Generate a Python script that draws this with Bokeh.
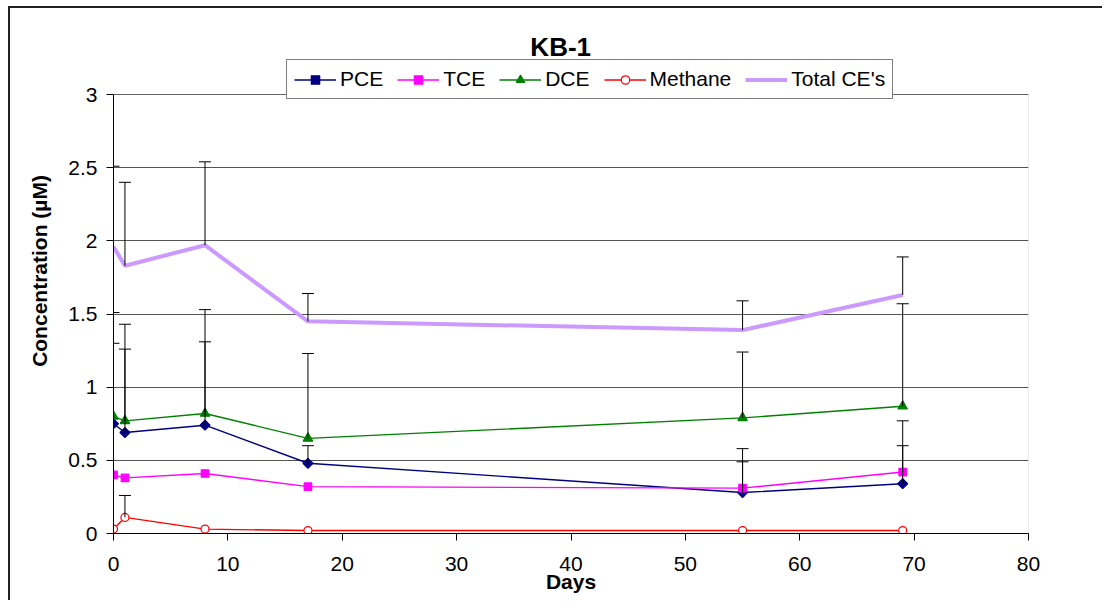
from bokeh.plotting import figure
from bokeh.models import (ColumnDataSource, Whisker, TeeHead, Legend, LegendItem,
                          Label, Range1d, FixedTicker, BoxAnnotation)
from bokeh.embed import file_html
from bokeh.resources import INLINE

# ---------------- data ----------------
chart_title = "KB-1"
x_label = "Days"
y_label = "Concentration (\u00b5M)"

days = [0, 1, 8, 17, 55, 69]

pce = [0.75, 0.69, 0.74, 0.48, 0.28, 0.34]
tce = [0.40, 0.38, 0.41, 0.32, 0.31, 0.42]
dce = [0.80, 0.77, 0.82, 0.65, 0.79, 0.87]
methane = [0.03, 0.11, 0.03, 0.02, 0.02, 0.02]
total_ce = [1.96, 1.83, 1.97, 1.45, 1.39, 1.63]

# upper ends of the error bars (None = no bar drawn)
pce_upper = [1.30, 1.26, 1.31, 0.60, 0.58, 0.77]
tce_upper = [None, None, None, None, 0.49, 0.60]
dce_upper = [1.51, 1.43, 1.53, 1.23, 1.24, 1.57]
methane_upper = [None, 0.26, None, None, None, None]
total_upper = [2.51, 2.40, 2.54, 1.64, 1.59, 1.89]

x_ticks = [0, 10, 20, 30, 40, 50, 60, 70, 80]
y_ticks = [0, 0.5, 1, 1.5, 2, 2.5, 3]
y_tick_labels = ["0", "0.5", "1", "1.5", "2", "2.5", "3"]

X_MIN, X_MAX = 0, 80
Y_MIN, Y_MAX = 0, 3

FONT = "Liberation Sans"

# layout (pixels)
FRAME_H = 525          # frame reaches the top of the canvas
AXIS_H = 439           # height of the 0..3 plot area
Y_TOP = Y_MAX * FRAME_H / AXIS_H   # extra head-room for title and legend

p = figure(width=1100, height=594, output_backend="svg", toolbar_location=None,
           title=None,
           x_range=Range1d(X_MIN, X_MAX), y_range=Range1d(Y_MIN, Y_TOP),
           min_border_left=103, min_border_right=82, min_border_top=0,
           min_border_bottom=69)
p.styles = {"margin-left": "8px", "margin-top": "6px",
            "border-top": "2px solid #222", "border-left": "2px solid #222",
            "border-right": "none", "border-bottom": "none",
            "clip-path": "inset(0px 6px 0px 0px)"}
p.background_fill_color = "white"
p.border_fill_color = "white"
p.outline_line_color = None

# plot-area box
p.add_layout(BoxAnnotation(left=X_MIN, right=X_MAX, bottom=Y_MIN, top=Y_MAX,
                           fill_alpha=0, line_color="#808080", line_width=1,
                           level="underlay"))

# grid
p.xgrid.visible = False
p.ygrid.ticker = FixedTicker(ticks=y_ticks)
p.ygrid.grid_line_color = "#555555"
p.ygrid.grid_line_width = 1

# axes
p.xaxis.ticker = FixedTicker(ticks=x_ticks)
p.yaxis.ticker = FixedTicker(ticks=y_ticks)
p.yaxis.bounds = (Y_MIN, Y_MAX)
p.yaxis.major_label_overrides = {t: l for t, l in zip(y_ticks, y_tick_labels)}
for ax in (p.xaxis[0], p.yaxis[0]):
    ax.axis_line_color = "black"
    ax.axis_line_width = 1
    ax.major_tick_line_color = "black"
    ax.major_tick_in = 0
    ax.major_tick_out = 7
    ax.minor_tick_line_color = None
    ax.major_label_text_font = FONT
    ax.major_label_text_font_size = "21px"
    ax.major_label_text_color = "black"
    ax.axis_label_text_font = FONT
    ax.axis_label_text_font_size = "21px"
    ax.axis_label_text_font_style = "bold"
    ax.axis_label_text_color = "black"
p.xaxis.axis_label = x_label
p.yaxis.axis_label = y_label
p.xaxis.major_label_standoff = 16
p.yaxis.major_label_standoff = 9
p.xaxis.axis_label_standoff = -4
p.yaxis.axis_label_standoff = 14

# series: name, values, error tops, colour, marker, size, fill, angle
series = [
    ("PCE", pce, pce_upper, "#000080", "square", 7, "#000080", 0.785398),
    ("TCE", tce, tce_upper, "#FF00FF", "square", 7.5, "#FF00FF", 0.0),
    ("DCE", dce, dce_upper, "#008000", "triangle", 9.5, "#008000", 0.0),
    ("Methane", methane, methane_upper, "#FF0000", "circle", 8, "white", 0.0),
]

# total CE line first (thick, no markers)
tot_src = ColumnDataSource(dict(x=days, y=total_ce))
tot_r = p.line("x", "y", source=tot_src, line_color="#CC99FF", line_width=4)

renders = {}
for name, vals, ups, col, mk, sz, fill, ang in series:
    src = ColumnDataSource(dict(x=days, y=vals))
    lr = p.line("x", "y", source=src, line_color=col, line_width=1.4)
    sr = p.scatter("x", "y", source=src, marker=mk, size=sz, angle=ang,
                   line_color=col, fill_color=fill, line_width=1.2)
    renders[name] = (lr, sr)


# error bars
def add_err(vals, ups):
    xs = [d for d, u in zip(days, ups) if u is not None]
    lo = [v for v, u in zip(vals, ups) if u is not None]
    hi = [u for u in ups if u is not None]
    src = ColumnDataSource(dict(base=xs, lower=lo, upper=hi))
    w = Whisker(source=src, base="base", lower="lower", upper="upper",
                dimension="height", line_color="black", line_width=1,
                upper_head=TeeHead(size=12, line_color="black", line_width=1),
                lower_head=None, level="glyph")
    p.add_layout(w)


for name, vals, ups, col, mk, sz, fill, ang in series:
    add_err(vals, ups)
add_err(total_ce, total_upper)

items = []
for name, vals, ups, col, mk, sz, fill, ang in series:
    items.append(LegendItem(label=name, renderers=list(renders[name])))
items.append(LegendItem(label="Total CE's", renderers=[tot_r]))

legend = Legend(items=items, orientation="horizontal", location=(173, 434),
                label_text_font=FONT, label_text_font_size="21px",
                label_text_color="black",
                glyph_width=42, glyph_height=21, label_height=21,
                label_standoff=4, spacing=14, padding=7, margin=0,
                border_line_color="black", border_line_width=1,
                background_fill_color="white", background_fill_alpha=1)
p.add_layout(legend, "center")

# chart title
p.add_layout(Label(x=39.1, y=Y_MAX + 48 / AXIS_H * Y_MAX, text=chart_title,
                   text_align="center", text_baseline="middle",
                   text_font=FONT, text_font_size="26px",
                   text_font_style="bold", text_color="black"))

open("out.html", "w").write(file_html(p, INLINE))
